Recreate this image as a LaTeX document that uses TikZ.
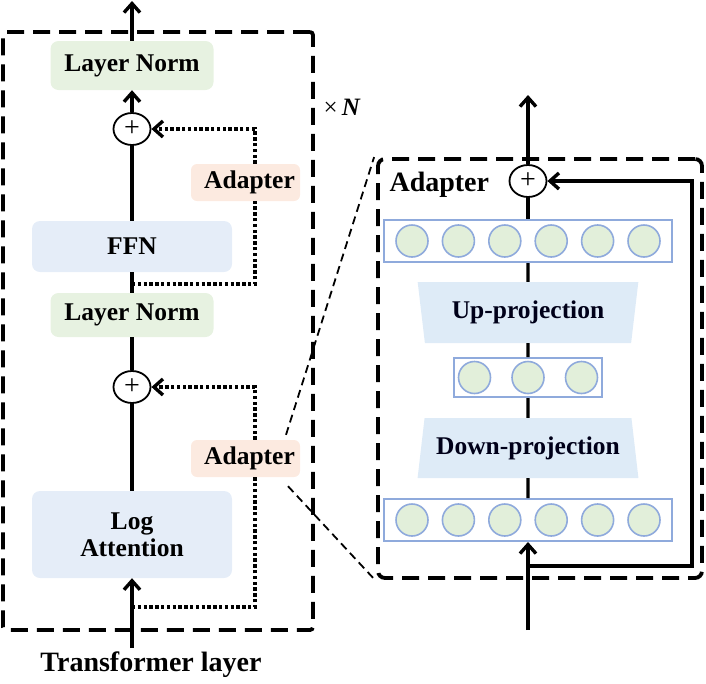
\documentclass[tikz,border=0pt]{standalone}
\usepackage{fontspec}
\setmainfont{Liberation Serif}
\usetikzlibrary{arrows.meta,shapes.geometric}
\definecolor{lngreen}{HTML}{E7F2E1}
\definecolor{ffnblue}{HTML}{E5EDF8}
\definecolor{adpeach}{HTML}{FCEAE0}
\definecolor{trapblue}{HTML}{DEEBF7}
\definecolor{neurgreen}{HTML}{E2EFDA}
\definecolor{neurline}{HTML}{8FAADC}
\begin{document}
\begin{tikzpicture}[x=1pt,y=-1pt,
  lbl/.style={font=\fontsize{25.5}{30}\selectfont\bfseries},
  blockbox/.style={lbl, rounded corners=8pt, inner sep=0pt, align=center},
  lnbox/.style={blockbox, fill=lngreen, minimum width=163pt},
  bluebox/.style={blockbox, fill=ffnblue, minimum width=200pt},
  adbox/.style={blockbox, rounded corners=6pt, fill=adpeach, minimum width=109pt, minimum height=37pt},
  plusnode/.style={draw, line width=1.8pt, ellipse, minimum width=37pt, minimum height=32pt, inner sep=0pt, font=\fontsize{28}{28}\selectfont, fill=white},
  mainline/.style={line width=3.4pt},
  arr/.style={mainline, -{Straight Barb[length=9pt,width=16pt]}},
  dotline/.style={line width=3.4pt, dash pattern=on 3.4pt off 2.4pt},
  dotarr/.style={dotline, -{Straight Barb[length=9pt,width=16pt]}},
  bigdash/.style={line width=3.8pt, dash pattern=on 17pt off 9pt},
  thindash/.style={line width=1.8pt, dash pattern=on 8pt off 5pt},
  rowbox/.style={draw=neurline, line width=2pt, fill=white, inner sep=0pt},
  neuron/.style={circle, draw=neurline, line width=1.6pt, fill=neurgreen, minimum size=32pt, inner sep=0pt},
  trap/.style={trapezium, trapezium stretches=true, fill=trapblue, inner sep=0pt, lbl, text=black!90!blue}
]
\useasboundingbox (0,0) rectangle (706,683);

% ---------------- left panel ----------------
\node[bigdash, draw, rounded corners=3pt, minimum width=310pt, minimum height=598pt, inner sep=0pt] (lbox) at (158,331) {};

\node[lnbox, minimum height=49pt] (ln1) at (132,65.5) {Layer Norm};
\node[plusnode] (p1) at (132,129) {+};
\node[adbox] (ad1) at (245.5,182.5) {\hspace*{8pt}Adapter};
\node[bluebox, minimum height=51pt] (ffn) at (132,246.5) {FFN};
\node[lnbox, minimum height=44pt] (ln2) at (132,315) {Layer Norm};
\node[plusnode] (p2) at (132,387) {+};
\node[adbox] (ad2) at (245.5,458.5) {\hspace*{8pt}Adapter};
\node[bluebox, minimum height=87pt] (la) at (132,534.5) {Log\\[-3pt]Attention};

\coordinate (outtop) at (132,1);
\coordinate (inbot) at (132,648);
\coordinate (b1) at (132,284);
\coordinate (b2) at (132,607);

\draw[arr] (ln1.north) -- (outtop);
\draw[arr] (p1.north) -- (ln1.south);
\draw[mainline] (ffn.north) -- (p1.south);
\draw[mainline] (ln2.north) -- (ffn.south);
\draw[mainline] (p2.north) -- (ln2.south);
\draw[mainline] (la.north) -- (p2.south);
\draw[arr] (inbot) -- (la.south);

\draw[dotarr] ([xshift=9.5pt]ad1.north) |- (p1.east);
\draw[dotline] (b1) -| ([xshift=9.5pt]ad1.south);
\draw[dotarr] ([xshift=9.5pt]ad2.north) |- (p2.east);
\draw[dotline] (b2) -| ([xshift=9.5pt]ad2.south);

\node[font=\fontsize{28}{30}\selectfont\bfseries] (tl) at (151,665) {Transformer layer};
\node[font=\fontsize{25}{30}\selectfont, anchor=west] (xn) at (320,107) {×\,\textbf{\textit{N}}};

% ---------------- right panel ----------------
\node[bigdash, draw, rounded corners=7pt, minimum width=324pt, minimum height=419pt, inner sep=0pt] (rbox) at (540,368.5) {};
\node[font=\fontsize{28}{30}\selectfont\bfseries, anchor=west] (rtitle) at (386,185) {Adapter};

\node[plusnode] (rp) at (528,181) {+};

\node[rowbox, minimum width=288pt, minimum height=42pt] (row1) at (528,241) {};
\foreach \i in {0,...,5} \node[neuron] (na\i) at ({528+46.4*(\i-2.5)},241) {};

\node[trap, shape border rotate=180, minimum width=221pt, minimum height=61pt,
      trapezium left angle=77, trapezium right angle=77] (up) at (528,312.5) {Up-projection};

\node[rowbox, minimum width=148pt, minimum height=39pt] (row2) at (528,377.5) {};
\foreach \i in {0,1,2} \node[neuron] (nb\i) at ({528+53.5*(\i-1)},377.5) {};

\node[trap, minimum width=221pt, minimum height=60pt,
      trapezium left angle=75, trapezium right angle=75] (down) at (528,448) {Down-projection};

\node[rowbox, minimum width=288pt, minimum height=42pt] (row3) at (528,520) {};
\foreach \i in {0,...,5} \node[neuron] (nc\i) at ({528+46.4*(\i-2.5)},520) {};

\coordinate (rout) at (528,95);
\coordinate (rin) at (528,630);
\coordinate (sk) at (528,566);
\coordinate (skc) at (692,566);

\draw[arr] (rp.north) -- (rout);
\draw[mainline] (rp.south) -- (row1.north);
\draw[mainline] (row1.south) -- (up.north);
\draw[mainline] (up.south) -- (row2.north);
\draw[mainline] (row2.south) -- (down.north);
\draw[mainline] (down.south) -- (row3.north);
\draw[arr] (rin) -- (row3.south);
\draw[arr] (sk) -- (skc) |- (rp.east);

% ---------------- zoom connectors ----------------
\draw[thindash] ([xshift=40.5pt,yshift=5pt]ad2.north) -- ([xshift=-2pt]rbox.north west);
\draw[thindash] ([xshift=42.5pt,yshift=-9pt]ad2.south) -- ([xshift=-3pt,yshift=2pt]rbox.south west);
\end{tikzpicture}
\end{document}
